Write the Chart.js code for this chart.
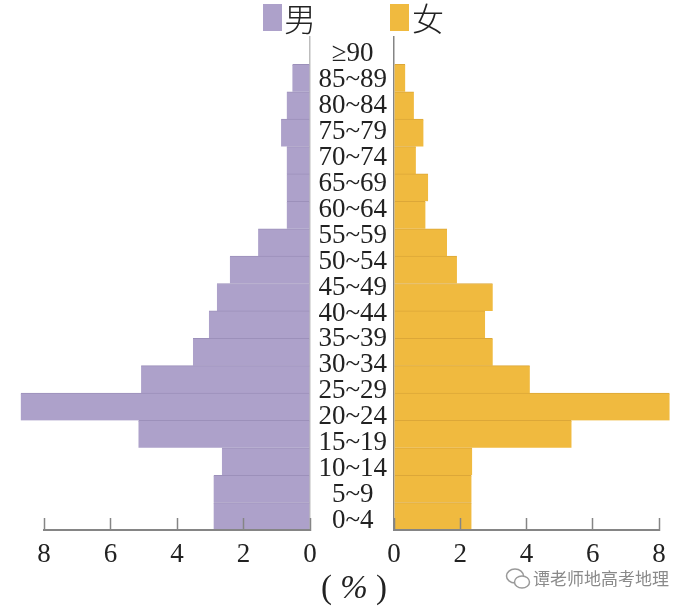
<!DOCTYPE html>
<html lang="zh">

<head>
  <meta charset="UTF-8">
  <title>人口金字塔</title>
  <script src="https://cdn.jsdelivr.net/npm/chart.js"></script>
  <style>
    html, body { margin: 0; padding: 0; background: #fff; }
    #page { position: relative; width: 690px; height: 610px; overflow: hidden; font-family: "Liberation Serif", serif; color: #222; }
    .wrap { position: absolute; top: 0; height: 590px; }
    .key { position: absolute; top: 4px; width: 19px; height: 27px; }
    .keyText { position: absolute; top: -3px; font: 32px/40px "Noto Sans CJK SC", sans-serif; font-weight: 300; }
    #unit { position: absolute; left: 304px; width: 100px; top: 567px; text-align: center; font-size: 33px; line-height: 40px; white-space: pre; }
    #mark { position: absolute; left: 533px; top: 567px; font: 17px/22px "Noto Sans CJK SC", sans-serif; color: #8a8a8a; }
    #icon { position: absolute; left: 505px; top: 567px; }
  </style>
</head>

<body>
  <div id="page">
    <div class="wrap" style="left:0;width:316px"><canvas id="chartMale"></canvas></div>
    <div class="wrap" style="left:311px;width:379px"><canvas id="chartFemale"></canvas></div>

    <div class="key" id="keyMale" style="left:263px"></div>
    <div class="keyText" id="textMale" style="left:284px"></div>
    <div class="key" id="keyFemale" style="left:390px"></div>
    <div class="keyText" id="textFemale" style="left:412px"></div>

    <div id="unit">( <i>%</i> )</div>
    <svg id="icon" width="26" height="24" fill="#fff" stroke="#9a9a9a" stroke-width="1.5">
      <ellipse cx="10" cy="9" rx="8.5" ry="7"></ellipse>
      <ellipse cx="17" cy="15" rx="7.5" ry="6"></ellipse>
    </svg>
    <div id="mark">谭老师地高考地理</div>
  </div>

  <script>
    const ageLabels = ['≥90', '85~89', '80~84', '75~79', '70~74', '65~69', '60~64', '55~59', '50~54', '45~49',
      '40~44', '35~39', '30~34', '25~29', '20~24', '15~19', '10~14', '5~9', '0~4'];

    // the picture has 17 bars under the empty top row, they do not line up one to one with the labels
    const barRows = ['', 'r1', 'r2', 'r3', 'r4', 'r5', 'r6', 'r7', 'r8', 'r9', 'r10', 'r11', 'r12', 'r13', 'r14', 'r15', 'r16', 'r17'];
    const maleValues = [null, 0.53, 0.70, 0.87, 0.70, 0.70, 0.70, 1.56, 2.41, 2.80, 3.04, 3.52, 5.08, 8.70, 5.16, 2.65, 2.90, 2.90];
    const femaleValues = [null, 0.34, 0.60, 0.89, 0.66, 1.03, 0.95, 1.60, 1.90, 2.98, 2.75, 2.98, 4.10, 8.32, 5.36, 2.36, 2.34, 2.34];
    const xTicks = [0, 2, 4, 6, 8];

    const maleName = '男';
    const femaleName = '女';
    const maleColor = '#ada1ca';
    const femaleColor = '#f0ba3f';
    const lineColor = '#858585';
    const fontFamily = '"Liberation Serif", serif';

    keyMale.style.background = maleColor;
    keyFemale.style.background = femaleColor;
    textMale.textContent = maleName;
    textFemale.textContent = femaleName;

    function xScale(reverse) {
      return {
        type: 'linear',
        position: 'bottom',
        reverse: reverse,
        min: 0,
        max: 8,
        afterBuildTicks: function (scale) { scale.ticks = xTicks.map(v => ({ value: v })); },
        afterFit: function (scale) { scale.height = 60; },
        border: { color: lineColor, width: 2, z: 2 },
        grid: { drawOnChartArea: false, tickLength: -12, tickColor: lineColor, tickWidth: 1.5, z: 2 },
        ticks: { color: '#222', padding: 21, maxRotation: 0, font: { family: fontFamily, size: 27 } }
      };
    }

    function barDataset(name, values, color, border) {
      return {
        label: name,
        data: values,
        backgroundColor: color,
        borderColor: border,
        borderWidth: { top: 1 },
        barPercentage: 1,
        categoryPercentage: 1,
        clip: false
      };
    }

    const baseOptions = {
      indexAxis: 'y',
      responsive: false,
      animation: false,
      plugins: { legend: { display: false }, tooltip: { enabled: false } }
    };

    const wMale = 316, wFemale = 379, h = 590;
    chartMale.width = wMale; chartMale.height = h;
    chartFemale.width = wFemale; chartFemale.height = h;

    const maleChart = new Chart(document.getElementById('chartMale'), {
      type: 'bar',
      data: { labels: barRows, datasets: [barDataset(maleName, maleValues, maleColor, '#9c90ba')] },
      options: {
        ...baseOptions,
        layout: { padding: { top: 37, left: 44, right: 0, bottom: 0 } },
        scales: {
          x: xScale(true),
          y: {
            type: 'category',
            position: 'right',
            afterFit: function (scale) { scale.width = 6; },
            border: { color: '#bdbdbd', width: 1.5 },
            grid: { display: false },
            ticks: { display: false }
          }
        }
      }
    });

    const femaleChart = new Chart(document.getElementById('chartFemale'), {
      type: 'bar',
      data: { labels: barRows, datasets: [barDataset(femaleName, femaleValues, femaleColor, '#dca738')] },
      options: {
        ...baseOptions,
        layout: { padding: { top: 37, left: 0, right: 31, bottom: 0 } },
        scales: {
          x: xScale(false),
          y: { type: 'category', display: false },
          yLabels: {
            type: 'category',
            position: 'left',
            labels: ageLabels,
            afterFit: function (scale) { scale.width = 83; },
            border: { color: lineColor, width: 1.5 },
            grid: { display: false, drawTicks: false },
            ticks: {
              color: '#222',
              padding: 7,
              crossAlign: 'center',
              autoSkip: false,
              labelOffset: 4,
              font: { family: fontFamily, size: 27 }
            }
          }
        }
      }
    });
  </script>
</body>

</html>
